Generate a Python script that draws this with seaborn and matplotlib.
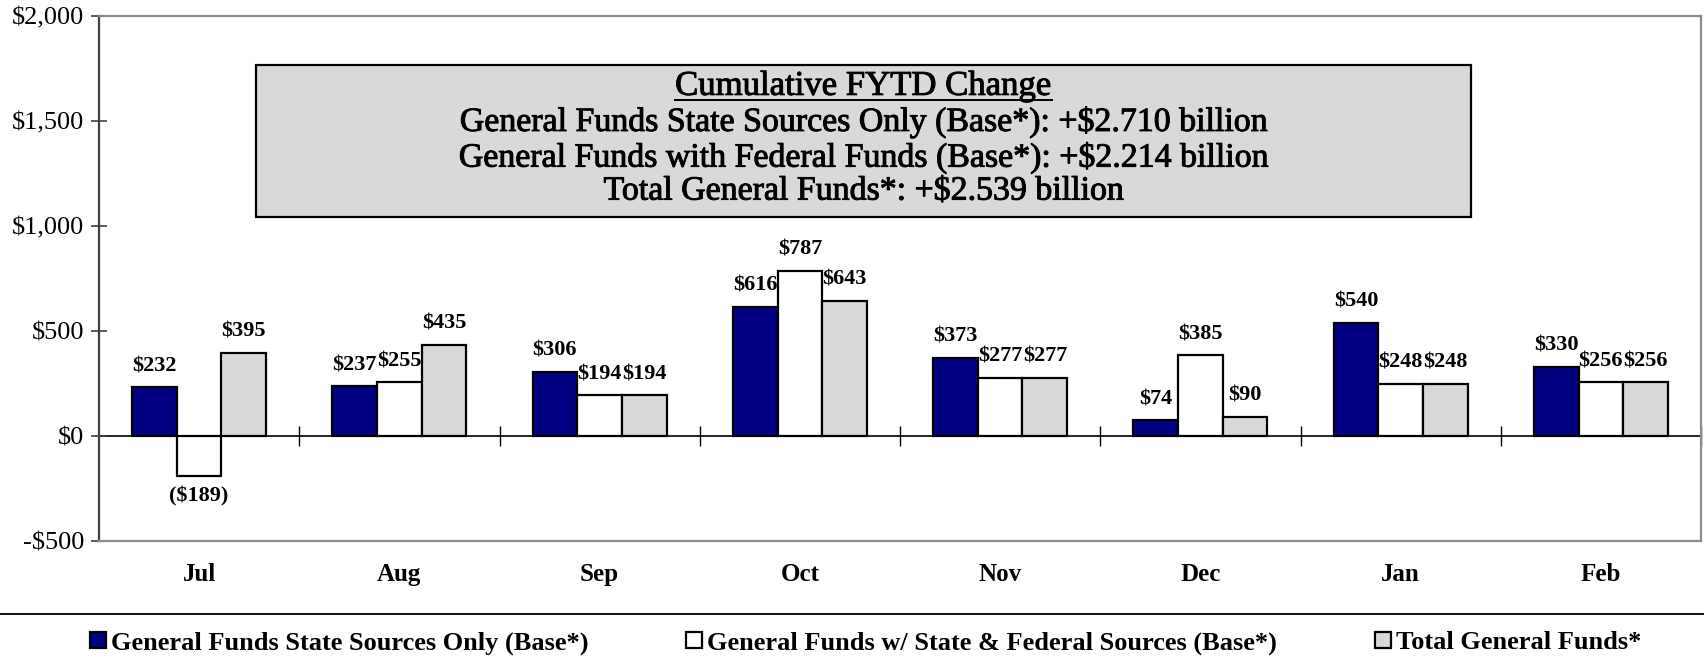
import matplotlib
matplotlib.use("Agg")
import matplotlib.pyplot as plt
import matplotlib.ticker as mticker
import matplotlib.patheffects as pe
from matplotlib.patches import Rectangle
from matplotlib.lines import Line2D
import seaborn as sns
import pandas as pd

# ---- data ----
months = ["Jul", "Aug", "Sep", "Oct", "Nov", "Dec", "Jan", "Feb"]
series = ["General Funds State Sources Only (Base*)",
          "General Funds w/ State & Federal Sources (Base*)",
          "Total General Funds*"]
state_only = [232, 237, 306, 616, 373, 74, 540, 330]
state_federal = [-189, 255, 194, 787, 277, 385, 248, 256]
total_general = [395, 435, 194, 643, 277, 90, 248, 256]
box_title = "Cumulative FYTD Change"
box_lines = ["General Funds State Sources Only (Base*): +$2.710 billion",
             "General Funds with Federal Funds (Base*): +$2.214 billion",
             "Total General Funds*: +$2.539 billion"]
yticks = [-500, 0, 500, 1000, 1500, 2000]

colors = ["#000080", "#FFFFFF", "#D9D9D9"]

plt.rcParams["font.family"] = ["Liberation Serif", "DejaVu Serif"]

df = pd.DataFrame({
    "Month": months * 3,
    "Series": [series[0]] * 8 + [series[1]] * 8 + [series[2]] * 8,
    "Value": state_only + state_federal + total_general,
})

fig = plt.figure(figsize=(17.04, 6.72), dpi=100)
ax = fig.add_axes([99 / 1704, 1 - 541 / 672, (1701 - 99) / 1704, (541 - 16) / 672])

sns.barplot(data=df, x="Month", y="Value", hue="Series", hue_order=series,
            order=months, palette=colors, edgecolor="black", linewidth=1.6,
            width=0.67, gap=0, saturation=1, errorbar=None, ax=ax)

handles, labels = ax.get_legend_handles_labels()
ax.get_legend().remove()

def fmt(v):
    return f"${v:,.0f}" if v >= 0 else f"(${-v:,.0f})"

for cont in ax.containers:
    vals = [b.get_height() for b in cont]
    ax.bar_label(cont, labels=[fmt(v) for v in vals], padding=8,
                 fontsize=16, fontweight="bold", color="black")

ax.set_xlim(-0.5, len(months) - 0.5)
ax.set_ylim(-500, 2000)
ax.set_yticks(yticks)
ax.yaxis.set_major_formatter(mticker.FuncFormatter(
    lambda v, p: f"${v:,.0f}" if v >= 0 else f"-${-v:,.0f}"))
ax.set_xlabel("")
ax.set_ylabel("")
ax.tick_params(axis="y", direction="inout", length=11, width=1.2,
               labelsize=19, pad=5, color="#404040")
ax.tick_params(axis="x", length=0, pad=16, labelsize=18)
for lab in ax.get_xticklabels():
    lab.set_fontweight("bold")

for side in ["top", "right", "bottom"]:
    ax.spines[side].set_color("#8C8C8C")
    ax.spines[side].set_linewidth(1.6)
ax.spines["left"].set_color("#404040")
ax.spines["left"].set_linewidth(1.6)

# category axis crossing at zero
ax.axhline(0, color="black", linewidth=1.2, zorder=1)
sec = ax.secondary_xaxis(500 / 2500)
sec.set_xticks([i + 0.5 for i in range(len(months) - 1)] + [len(months) - 0.5])
sec.set_xticklabels([])
sec.tick_params(direction="inout", length=14, width=1.0, color="black")
sec.spines["bottom"].set_visible(False)

# summary box
box = Rectangle((0.283, 1041), 6.07, 727, facecolor="#D9D9D9",
                edgecolor="black", linewidth=1.6, zorder=3)
ax.add_patch(box)
cx = 3.318
heavy = [pe.withStroke(linewidth=0.7, foreground="black")]
t = ax.text(cx, 1665, box_title, ha="center", va="center", fontsize=25,
            zorder=4, path_effects=heavy)
ys = [1495, 1325, 1165]
for y, s in zip(ys, box_lines):
    ax.text(cx, y, s, ha="center", va="center", fontsize=24.4, zorder=4,
            path_effects=heavy)

fig.canvas.draw()
bb = t.get_window_extent(renderer=fig.canvas.get_renderer())
inv = ax.transData.inverted()
(x0, y0), (x1, y1) = inv.transform([(bb.x0, bb.y0 + 3), (bb.x1, bb.y0 + 3)])
ax.add_line(Line2D([x0, x1], [y0, y1], color="black", linewidth=1.4, zorder=4))

# separator line and legend
fig.add_artist(Line2D([0, 1], [1 - 614 / 672, 1 - 614 / 672],
                      transform=fig.transFigure, color="black", linewidth=1.3))
leg = fig.legend(handles, labels, loc="center", bbox_to_anchor=(0.508, 1 - 643 / 672),
                 ncol=3, frameon=False, prop={"size": 19, "weight": "bold"},
                 handlelength=0.6, handleheight=0.6, handletextpad=0.2,
                 columnspacing=3.7, borderaxespad=0)

fig.savefig("out.png", dpi=100)
